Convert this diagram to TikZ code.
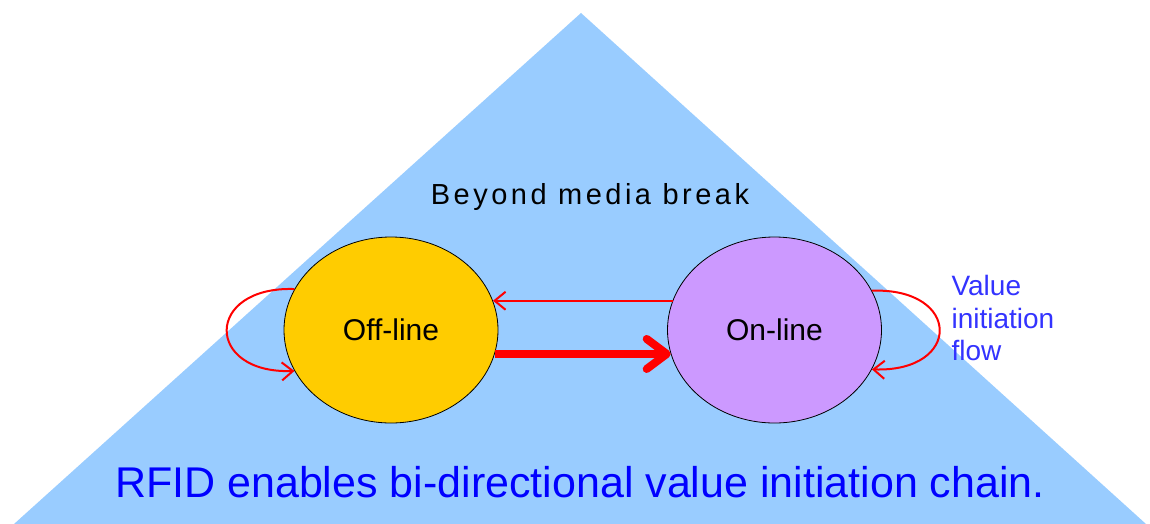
\documentclass[tikz,border=0pt]{standalone}
\usepackage{fontspec}
\setmainfont{Liberation Sans}
\usepackage{tikz}
\usetikzlibrary{arrows.meta,shapes.geometric}
\definecolor{pyramid}{HTML}{99CCFF}
\definecolor{offfill}{HTML}{FFCC00}
\definecolor{onfill}{HTML}{CC99FF}
\definecolor{flowred}{HTML}{FF0000}
\definecolor{chainblue}{HTML}{0000FF}
\definecolor{noteblue}{HTML}{3333FF}
\tikzset{
  state/.style={ellipse,draw=black,line width=0.8pt,minimum width=214pt,minimum height=186pt,inner sep=0pt,font=\fontsize{30}{36}\selectfont},
  thinflow/.style={draw=flowred,line width=2pt,-{Straight Barb[length=11pt,width=18pt]}},
  boldflow/.style={draw=flowred,line width=8pt,-{Straight Barb[length=20pt,width=30pt,round]}}
}
\begin{document}
\begin{tikzpicture}[x=1pt,y=-1pt]
\useasboundingbox (0,0) rectangle (1150,524);
\fill[pyramid] (581,13) -- (1146,524) -- (14,524) -- cycle;
\node[font=\fontsize{29}{34}\selectfont\addfontfeature{LetterSpace=12},anchor=base] (beyond) at (590,204) {Beyond media break};
\node[state,fill=offfill] (offline) at (391,330) {Off-line};
\node[state,fill=onfill] (online) at (774.5,330) {On-line};
\draw[thinflow] (online.164) -- (offline.16.5);
\draw[boldflow] (offline.-13.6) -- (online.193.6);
\draw[thinflow] (offline.157) .. controls +(-90,-3) and +(-90,3) .. (offline.203);
\draw[thinflow] (online.22) .. controls +(90,-3) and +(90,3) .. (online.-22);
\node[anchor=west,align=left,text=noteblue,font=\fontsize{28}{32.5}\selectfont] (flow) at (948,318) {Value\\initiation\\flow};
\node[anchor=base,text=chainblue,font=\fontsize{43}{50}\selectfont] (chain) at (580,497) {RFID enables bi-directional value initiation chain.};
\end{tikzpicture}
\end{document}
